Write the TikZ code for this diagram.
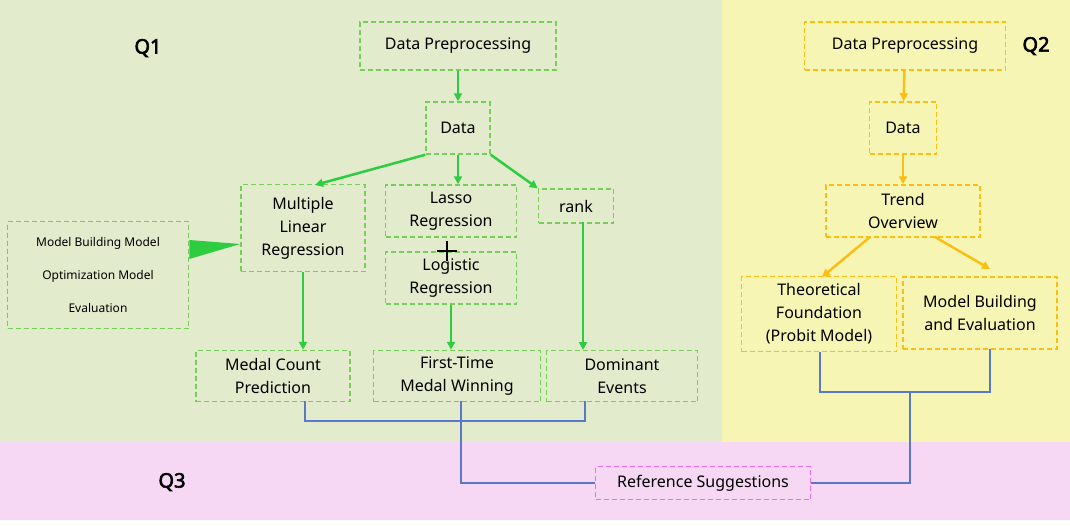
\documentclass[tikz,border=0pt]{standalone}
\usepackage{fontspec}
\setmainfont{Noto Sans}
\newfontfamily\qfont{Noto Sans}[FakeBold=3]
\usetikzlibrary{arrows.meta}
\definecolor{bgGreen}{RGB}{227,235,205}
\definecolor{bgYellow}{RGB}{247,245,180}
\definecolor{bgPink}{RGB}{246,216,244}
\definecolor{lnGreen}{RGB}{46,204,64}
\definecolor{bxGreen}{RGB}{120,205,90}
\definecolor{lnYellow}{RGB}{250,190,20}
\definecolor{lnBlue}{RGB}{90,120,200}
\definecolor{lnPink}{RGB}{230,110,230}
\tikzset{
  gbox/.style={draw=bxGreen, dash pattern=on 5pt off 3pt, line width=1.5pt, align=center, font=\fontsize{16}{23}\selectfont, inner sep=2pt},
  ybox/.style={draw=lnYellow, dash pattern=on 5pt off 3pt, line width=1.5pt, align=center, font=\fontsize{16}{23}\selectfont, inner sep=2pt},
  garrow/.style={draw=lnGreen, line width=2.5pt, -{Triangle[length=8pt,width=8pt]}},
  yarrow/.style={draw=lnYellow, line width=2.5pt, -{Triangle[length=8pt,width=8pt]}},
  bline/.style={draw=lnBlue, line width=1.2pt},
  qlabel/.style={font=\fontsize{20}{22}\qfont},
}
\begin{document}
\begin{tikzpicture}[x=1pt,y=1pt,yscale=-1]
\useasboundingbox (0,0) rectangle (1070,525);
% backgrounds
\fill[bgGreen] (0,0) rectangle (722,442);
\fill[bgYellow] (722,0) rectangle (1070,442);
\fill[bgPink] (0,442) rectangle (1070,520);

\node[qlabel] (q1) at (148,48) {Q1};
\node[qlabel] (q2) at (1036,46) {Q2};
\node[qlabel] (q3) at (172,482) {Q3};

% Q1 boxes
\node[gbox, minimum width=196, minimum height=48] (prep1) at (458,46) {Data Preprocessing};
\node[gbox, minimum width=64, minimum height=52] (data1) at (458,128) {Data};
\node[gbox, minimum width=124, minimum height=87] (mlr) at (303,228) {Multiple\\Linear\\Regression};
\node[gbox, minimum width=131, minimum height=52] (lasso) at (451,211) {Lasso\\Regression};
\node[gbox, minimum width=131, minimum height=52] (logit) at (451,278) {Logistic\\Regression};
\node[gbox, minimum width=75, minimum height=34] (rank) at (576,206) {rank};
\node[gbox, minimum width=181, minimum height=107, font=\fontsize{12}{33}\selectfont] (model) at (98,275) {Model Building Model\\Optimization Model\\Evaluation};
\node[gbox, minimum width=154, minimum height=51] (medal) at (273,376) {Medal Count\\Prediction};
\node[gbox, minimum width=167, minimum height=51] (first) at (457,376) {First-Time\\Medal Winning};
\node[gbox, minimum width=151, minimum height=51] (domin) at (622,376) {Dominant\\Events};
% plus sign between the two regressions
\coordinate (plus) at (447,251);
\draw[line width=1.6pt] ([xshift=-10pt]plus) -- ([xshift=10pt]plus)
  ([yshift=-10pt]plus) -- ([yshift=10pt]plus);

% Q2 boxes
\node[ybox, minimum width=201, minimum height=48] (prep2) at (905,46) {Data Preprocessing};
\node[ybox, minimum width=67, minimum height=52] (data2) at (903,128) {Data};
\node[ybox, minimum width=154, minimum height=52] (trend) at (903,211) {Trend\\Overview};
\node[ybox, minimum width=155, minimum height=75] (theo) at (819,314) {Theoretical\\Foundation\\(Probit Model)};
\node[ybox, minimum width=154, minimum height=72] (build) at (980,313) {Model Building\\and Evaluation};

% Q3 box
\node[draw=lnPink, dash pattern=on 5pt off 3pt, line width=1.5pt, font=\fontsize{16}{20}\selectfont, minimum width=215, minimum height=33] (sugg) at (703,483) {Reference Suggestions};

% green arrows
\draw[garrow] (data1.south west) -- (315,185);
\draw[garrow] (prep1) -- (data1);
\draw[garrow] (data1) -- (data1 |- lasso.north);
\draw[garrow] (data1.south east) -- (rank.north west);
\draw[garrow] (mlr) -- (mlr |- medal.north);
\draw[garrow] (logit) -- (logit |- first.north);
\draw[garrow] (583,222) -- (583,350);
\fill[lnGreen] (model.east |- 0,240) -- (mlr.west |- 0,244) -- (model.east |- 0,259) -- cycle;

% yellow arrows
\draw[yarrow] (prep2) -- (data2);
\draw[yarrow] (data2) -- (trend);
\draw[yarrow] (870,237) -- (822,277);
\draw[yarrow] (935,237) -- (990,269);

% blue connectors
\draw[bline] (305,401) -- (305,421) -- (585,421) -- (585,401);
\draw[bline] (461,401) -- (461,483) -- (sugg.west);
\draw[bline] (820,352) -- (820,392) -- (990,392) -- (990,349);
\draw[bline] (910,392) -- (910,483) -- (sugg.east);
\end{tikzpicture}
\end{document}
